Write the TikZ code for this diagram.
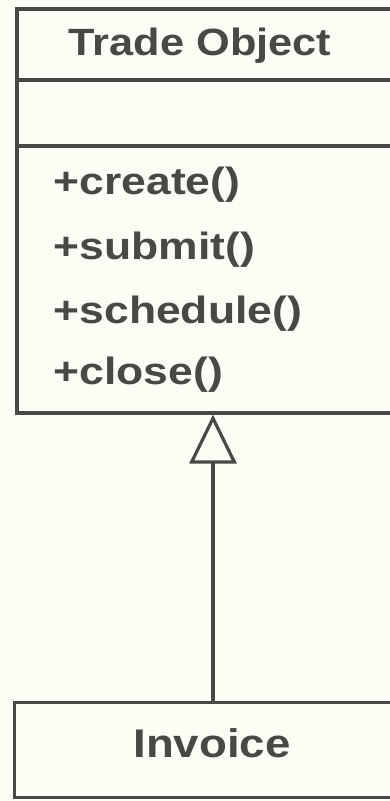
\documentclass[tikz,border=0pt]{standalone}
\usepackage{fontspec}
\setmainfont{Liberation Sans}
\newfontfamily\namefont[FakeStretch=1.14]{Liberation Sans}
\newfontfamily\opfont[FakeStretch=1.17]{Liberation Sans}
\usetikzlibrary{arrows.meta, positioning}
\definecolor{cink}{HTML}{4A4845}
\definecolor{cpaper}{HTML}{FDFDF6}
\tikzset{
  every picture/.style={line width=3.2pt, color=cink},
  classbox/.style={draw=cink, rectangle, inner sep=0pt},
  classname/.style={font=\namefont\bfseries\fontsize{38}{40}\selectfont, text=cink, inner sep=0pt, anchor=base},
  optext/.style={font=\opfont\bfseries\fontsize{38}{40}\selectfont, text=cink, inner sep=0pt, anchor=base west},
  inherit/.style={-{Triangle[open, length=49pt, width=47pt]}, draw=cink, line width=3.2pt},
}

\begin{document}
\begin{tikzpicture}[x=1pt, y=-1pt]
  \clip (0,0) rectangle (390,801);
  \fill[cpaper] (0,0) rectangle (390,801);

  % superclass, its right side runs off the page
  \node[classbox, minimum width=392pt, minimum height=404pt] (trade) at (213,211) {};
  \draw (trade.west |- 0,80) -- (trade.east |- 0,80);
  \draw (trade.west |- 0,146) -- (trade.east |- 0,146);
  \node[classname] (tname) at (200,55) {Trade Object};
  \foreach \i/\y/\op in {1/194/create, 2/259/submit, 3/323/schedule, 4/384/close} {
    \node[optext] (op\i) at (52,\y) {+\op()};
  }

  % subclass and the generalization
  \node[classbox, minimum width=397pt, minimum height=95pt] (invoice) at (213,750) {};
  \node[classname, font=\namefont\bfseries\fontsize{40}{42}\selectfont] (iname) at (212,757) {Invoice};
  \draw[inherit] (invoice.north) -- (trade.south);
\end{tikzpicture}
\end{document}
